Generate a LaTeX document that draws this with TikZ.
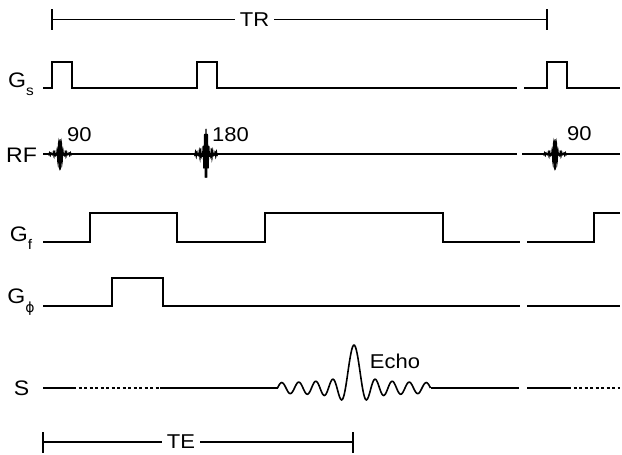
\documentclass[tikz,border=0pt]{standalone}
\usepackage{fontspec}
\setmainfont{Liberation Sans}[FakeStretch=1.1]
\newfontfamily\phifont{DejaVu Sans}
\newcommand{\lblsub}[1]{\raisebox{-0.4em}{\fontsize{14}{14}\selectfont #1}}
\begin{document}
\begin{tikzpicture}[x=1pt,y=-1pt,
  wave/.style={line width=1.9pt, line join=miter},
  thin/.style={line width=1.2pt},
  rfpulse/.style={line width=1pt},
  lbl/.style={inner sep=0pt, font=\fontsize{20}{22}\selectfont},
  axlbl/.style={inner sep=0pt, font=\fontsize{21}{23}\selectfont},
  dotline/.style={line width=1.5pt, dash pattern=on 3pt off 2.5pt}]
\useasboundingbox (0,0) rectangle (622,455);

% TR
\node[lbl] (tr) at (254.5,19.5) {TR};
\coordinate (trL) at (52,19.5);
\coordinate (trR) at (547,19.5);
\draw[thin] (52,9) -- (52,30);
\draw[thin] (547,9) -- (547,30);
\draw[thin] (trL) -- ([xshift=-5pt]tr.west);
\draw[thin] ([xshift=5pt]tr.east) -- (trR);

% labels
\node[axlbl] (gs) at (21,84) {G\lblsub{s}};
\node[axlbl] (rf) at (21.5,155) {RF};
\node[axlbl] (gf) at (21,238) {G\lblsub{f}};
\node[axlbl] (gp) at (21,302) {G\lblsub{\phifont ϕ}};
\node[axlbl] (s) at (21.5,388) {S};

% Gs
\draw[wave] (43,88) -- (52,88) -- (52,62) -- (72,62) -- (72,88) -- (197,88) -- (197,62) -- (217,62) -- (217,88) -- (517,88);
\draw[wave] (524,88) -- (547,88) -- (547,62) -- (567,62) -- (567,88) -- (620,88);

% RF
\draw[wave] (43,154) -- (517,154);
\draw[wave] (522,154) -- (620,154);
\draw[rfpulse] plot[domain=-12:12, samples=160] ({60+\x},{154-15*cos(360*\x/1.5)*sin(45*\x)/(pi*\x/4)});
\draw[rfpulse] plot[domain=-12:12, samples=160] ({206+\x},{154-26*cos(360*\x/1.5)*sin(45*\x)/(pi*\x/4)});
\draw[rfpulse] plot[domain=-12:12, samples=160] ({555+\x},{154-15*cos(360*\x/1.5)*sin(45*\x)/(pi*\x/4)});
\node[lbl, anchor=west] (n90a) at (67,135) {90};
\node[lbl, anchor=west] (n180) at (212,135) {180};
\node[lbl, anchor=west] (n90b) at (567,134) {90};

% Gf
\draw[wave] (43,242) -- (90,242) -- (90,213) -- (177,213) -- (177,242) -- (265,242) -- (265,213) -- (443,213) -- (443,242) -- (520,242);
\draw[wave] (527,242) -- (594,242) -- (594,213) -- (620,213);

% Gphi
\draw[wave] (43,306) -- (112,306) -- (112,278) -- (163,278) -- (163,306) -- (520,306);
\draw[wave] (527,306) -- (620,306);

% S
\draw[wave, line width=1.6pt] (43,388) -- (73,388);
\draw[dotline] (73,388) -- (160,388);
\draw[wave, line width=1.6pt] (160,388) -- (277.5,388);
\draw[wave, line width=1.6pt] plot[domain=-9:9, samples=180] ({354+8.5*\x},{388-43*(sin(180*\x)/(pi*\x)+0.09*sin(180*abs(\x))*\x*\x/(1+\x*\x))});
\draw[wave, line width=1.6pt] (430.5,388) -- (519,388);
\draw[wave, line width=1.6pt] (527,388) -- (568,388);
\draw[dotline] (568,388) -- (620,388);
\node[lbl] (echo) at (395,361) {Echo};

% TE
\node[lbl] (te) at (181,442) {TE};
\coordinate (teL) at (43,442);
\coordinate (teR) at (353,442);
\draw[thin] (43,432) -- (43,453);
\draw[thin] (353,432) -- (353,453);
\draw[thin] (teL) -- ([xshift=-5pt]te.west);
\draw[thin] ([xshift=5pt]te.east) -- (teR);
\end{tikzpicture}
\end{document}
